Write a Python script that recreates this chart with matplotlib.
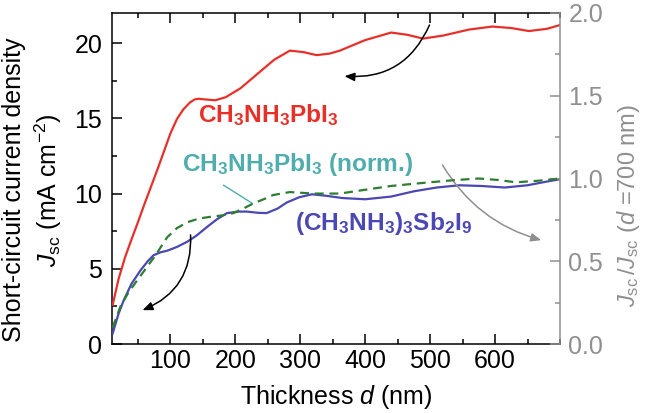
import matplotlib
matplotlib.use("Agg")
import matplotlib.pyplot as plt
from matplotlib.ticker import MultipleLocator, FormatStrFormatter

# ---- data ----
red_x = [11, 20, 30, 40, 50, 60, 70, 80, 90, 100, 110, 120, 130, 137, 143, 155, 169,
         185, 208, 238, 260, 284, 305, 325, 345, 361, 400, 440, 465, 489, 520, 560,
         596, 625, 652, 680, 700]
red_y = [2.6, 4.3, 5.75, 6.95, 8.1, 9.3, 10.45, 11.6, 12.8, 14.0, 14.95, 15.6, 16.05,
         16.25, 16.3, 16.25, 16.2, 16.4, 17.0, 18.1, 18.9, 19.5, 19.4, 19.2, 19.3,
         19.5, 20.2, 20.7, 20.55, 20.3, 20.5, 20.9, 21.1, 21.0, 20.8, 20.95, 21.2]

blue_x = [11, 20, 28, 40, 54, 65, 74, 85, 95, 110, 126, 140, 157, 172, 187, 205, 218,
          235, 248, 265, 279, 298, 318, 340, 365, 400, 440, 475, 510, 545, 580, 615,
          650, 680, 700]
blue_y = [0.7, 2.0, 2.9, 4.0, 4.9, 5.5, 5.9, 6.1, 6.2, 6.45, 6.8, 7.2, 7.8, 8.3, 8.7,
          8.8, 8.8, 8.72, 8.7, 9.0, 9.4, 9.75, 9.95, 9.85, 9.7, 9.62, 9.8, 10.15,
          10.4, 10.55, 10.5, 10.4, 10.55, 10.8, 10.95]

norm_x = [11, 23, 35, 49, 62, 77, 95, 110, 126, 145, 161, 180, 197, 212, 228, 245,
          258, 284, 320, 361, 400, 440, 499, 540, 575, 605, 632, 665, 700]
norm_y = [0.10, 0.227, 0.309, 0.386, 0.455, 0.536, 0.645, 0.70, 0.736, 0.759, 0.768,
          0.777, 0.791, 0.818, 0.85, 0.877, 0.90, 0.918, 0.909, 0.909, 0.932, 0.955,
          0.977, 0.991, 1.0, 0.991, 0.977, 0.986, 1.0]

x_ticks = [100, 200, 300, 400, 500, 600]
left_ticks = [0, 5, 10, 15, 20]
right_ticks = [0.0, 0.5, 1.0, 1.5, 2.0]

# annotation anchors (data coords)
arrow_red = ((499, 21.2), (368, 17.8))
arrow_blue = ((131, 7.25), (57, 2.25))
arrow_norm = ((519, 11.9), (671, 6.9))
teal_leader = ((182, 226), (10.55, 9.35))

RED = "#e8302a"
BLUE = "#4b47b3"
GREEN = "#2e7d32"
TEAL = "#4fadad"
GRAY = "#8f8f8f"

plt.rcParams["font.family"] = ["Liberation Sans", "DejaVu Sans"]
plt.rcParams["mathtext.fontset"] = "custom"
plt.rcParams["mathtext.rm"] = "Liberation Sans"
plt.rcParams["mathtext.it"] = "Liberation Sans:italic"
plt.rcParams["mathtext.bf"] = "Liberation Sans:bold"

fig = plt.figure(figsize=(6.46, 4.13), dpi=100)
ax = fig.add_axes([112 / 646, 1 - 344 / 413, (560 - 112) / 646, (344 - 13) / 413])
ax2 = ax.twinx()

ax.plot(red_x, red_y, color=RED, lw=1.6, zorder=3)
ax.plot(blue_x, blue_y, color=BLUE, lw=1.6, zorder=3)
ax2.plot(norm_x, norm_y, color=GREEN, lw=1.6, ls=(0, (4, 2.6)), zorder=3)

ax.set_xlim(10, 700)
ax.set_ylim(0, 22)
ax2.set_ylim(0, 2)

ax.set_xticks(x_ticks)
ax.xaxis.set_minor_locator(MultipleLocator(50))
ax.set_yticks(left_ticks)
ax.yaxis.set_minor_locator(MultipleLocator(2.5))
ax2.set_yticks(right_ticks)
ax2.yaxis.set_minor_locator(MultipleLocator(0.25))
ax2.yaxis.set_major_formatter(FormatStrFormatter("%.1f"))

TICK_FS = 18
ax.tick_params(which="both", direction="in", top=True, right=False,
               labelsize=TICK_FS, width=1.1)
ax.tick_params(axis="x", which="both", pad=3.5)
ax.tick_params(axis="y", which="both", pad=7)
ax.tick_params(which="major", length=7)
ax.tick_params(which="minor", length=3.5)
ax2.tick_params(which="both", direction="in", colors=GRAY, labelsize=TICK_FS,
                width=1.1, pad=6)
ax2.tick_params(which="major", length=7)
ax2.tick_params(which="minor", length=3.5)

for s in ["left", "bottom", "top"]:
    ax.spines[s].set_linewidth(1.1)
ax.spines["right"].set_visible(False)
for s in ["left", "bottom", "top"]:
    ax2.spines[s].set_visible(False)
ax2.spines["right"].set_color(GRAY)
ax2.spines["right"].set_linewidth(1.1)

LAB_FS = 18
ax.set_xlabel(r"Thickness $d$ (nm)", fontsize=LAB_FS, labelpad=7)
ax.set_ylabel("Short-circuit current density\n" + r"$J_{\rm sc}$ (mA cm$^{-2}$)",
              fontsize=LAB_FS, linespacing=1.25)
ax.yaxis.set_label_coords(-0.108, 0.465)
ax2.set_ylabel(r"$J_{\rm sc}\,/J_{\rm sc}$ ($d$ =700 nm)", fontsize=17,
               color=GRAY)
ax2.yaxis.set_label_coords(1.122, 0.42)

ANN_FS = 17.6
ax.text(143, 14.75, r"$\mathbf{CH_3NH_3PbI_3}$", color=RED, fontsize=ANN_FS,
        ha="left", va="baseline")
ax.text(118, 11.5, r"$\mathbf{CH_3NH_3PbI_3}$ (norm.)", color=TEAL,
        fontsize=ANN_FS, fontweight="bold", ha="left", va="baseline")
ax.text(292, 7.57, r"$\mathbf{(CH_3NH_3)_3Sb_2I_9}$", color=BLUE, fontsize=ANN_FS,
        ha="left", va="baseline")

ax.plot(teal_leader[0], teal_leader[1], color=TEAL, lw=1.0, zorder=2)

head = "-|>,head_length=0.6,head_width=0.25"
ax.annotate("", xy=arrow_red[1], xytext=arrow_red[0],
            arrowprops=dict(arrowstyle=head, color="black", lw=1.1,
                            connectionstyle="arc3,rad=-0.35", shrinkA=0, shrinkB=0))
ax.annotate("", xy=arrow_blue[1], xytext=arrow_blue[0],
            arrowprops=dict(arrowstyle=head, color="black", lw=1.1,
                            connectionstyle="arc3,rad=-0.35", shrinkA=0, shrinkB=0))
ax.annotate("", xy=arrow_norm[1], xytext=arrow_norm[0],
            arrowprops=dict(arrowstyle=head, color=GRAY, lw=1.1,
                            connectionstyle="arc3,rad=0.2", shrinkA=0, shrinkB=0))

fig.savefig("out.png", dpi=100)
